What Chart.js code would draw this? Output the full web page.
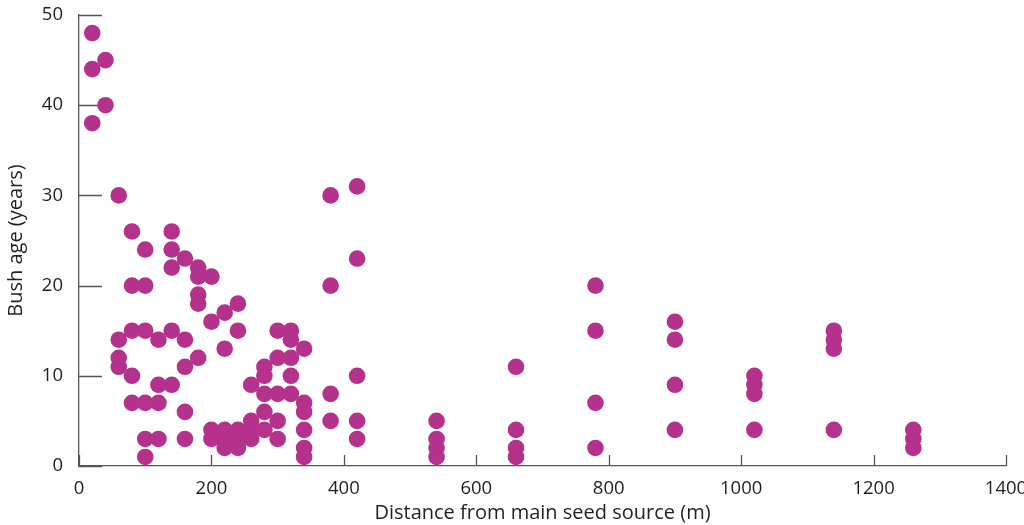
<!DOCTYPE html>
<html>
<head>
<meta charset="utf-8">
<script src="https://cdn.jsdelivr.net/npm/chart.js@4.4.0/dist/chart.umd.min.js"></script>
<style>
  html, body { margin: 0; padding: 0; background: #fff; }
  #wrap { width: 1024px; height: 525px; position: relative; }
</style>
</head>
<body>
<div id="wrap"><canvas id="myChart"></canvas></div>
<script>
"use strict";

/* Data: distance from seed source (m) and bush ages (years) found at each distance */
const distances = [20, 40, 60, 80, 100, 120, 140, 160, 180, 200, 220, 240, 260,
	280, 300, 320, 340, 380, 420, 540, 660, 780, 900, 1020, 1140, 1260];
const ages = [
	[48, 44, 38],
	[45, 40],
	[30, 14, 12, 11],
	[26, 20, 15, 10, 7],
	[24, 20, 15, 7, 3, 1],
	[14, 9, 7, 3],
	[26, 24, 22, 15, 9],
	[23, 14, 11, 6, 3],
	[22, 21, 19, 18, 12],
	[21, 16, 4, 3],
	[17, 13, 4, 3, 2],
	[18, 15, 4, 3, 2],
	[9, 5, 4, 3],
	[11, 10, 8, 6, 4],
	[15, 12, 8, 5, 3],
	[15, 14, 12, 10, 8],
	[13, 7, 6, 4, 2, 1],
	[30, 20, 8, 5],
	[31, 23, 10, 5, 3],
	[5, 3, 2, 1],
	[11, 4, 2, 1],
	[20, 15, 7, 2],
	[16, 14, 9, 4],
	[10, 9, 8, 4],
	[15, 14, 13, 4],
	[4, 3, 2]
];
const xTicks = [0, 200, 400, 600, 800, 1000, 1200, 1400];
const yTicks = [0, 10, 20, 30, 40, 50];

const dotColor = 'rgb(180, 50, 140)';
const axisColor = '#555555';
const textColor = '#231f20';
const fontFamily = '"Open Sans", "Noto Sans", sans-serif';

// build the point list
const points = [];
distances.forEach(function (d, i) {
	ages[i].forEach(function (a) {
		points.push({ x: d, y: a });
	});
});

// tick marks drawn inside the plot, like the original
const innerTicks = {
	id: 'innerTicks',
	beforeDatasetsDraw(chart) {
		const ctx = chart.ctx;
		const x = chart.scales.x;
		const y = chart.scales.y;
		ctx.save();
		ctx.strokeStyle = axisColor;
		ctx.lineWidth = 1.3;
		ctx.beginPath();
		yTicks.forEach(function (v) {
			const py = Math.round(y.getPixelForValue(v)) + 0.5;
			ctx.moveTo(x.left, py);
			ctx.lineTo(x.left + 23, py);
		});
		xTicks.forEach(function (v) {
			const px = Math.round(x.getPixelForValue(v)) + 0.5;
			ctx.moveTo(px, y.bottom);
			ctx.lineTo(px, y.bottom - 11);
		});
		ctx.stroke();
		ctx.restore();
	}
};

const config = {
	type: 'scatter',
	data: {
		datasets: [{
			label: 'Bush age',
			data: points,
			backgroundColor: dotColor,
			borderColor: dotColor,
			borderWidth: 0,
			pointRadius: 8.3,
			pointHoverRadius: 8.3
		}]
	},
	options: {
		responsive: true,
		maintainAspectRatio: false,
		animation: false,
		layout: { padding: { top: 15, right: 18, bottom: 0, left: 0 } },
		plugins: {
			legend: { display: false },
			tooltip: { enabled: false }
		},
		scales: {
			x: {
				type: 'linear',
				min: 0,
				max: 1400,
				afterBuildTicks: function (s) { s.ticks = xTicks.map(function (v) { return { value: v }; }); },
				afterFit: function (s) { s.height = 59; s.paddingLeft = 0; s.paddingRight = 0; },
				grid: { display: false, drawTicks: false },
				border: { display: true, color: axisColor, width: 1.3 },
				ticks: {
					color: textColor,
					font: { family: fontFamily, size: 18.5 },
					padding: 12,
					maxRotation: 0,
					callback: function (v) { return String(v); }
				},
				title: {
					display: true,
					text: 'Distance from main seed source (m)',
					color: textColor,
					font: { family: fontFamily, size: 20 },
					padding: { top: 0, bottom: 0 }
				}
			},
			y: {
				type: 'linear',
				min: 0,
				max: 50,
				afterBuildTicks: function (s) { s.ticks = yTicks.map(function (v) { return { value: v }; }); },
				afterFit: function (s) { s.width = 79; s.paddingTop = 0; s.paddingBottom = 0; },
				grid: { display: false, drawTicks: false },
				border: { display: true, color: axisColor, width: 1.3 },
				ticks: {
					color: textColor,
					font: { family: fontFamily, size: 18.5 },
					padding: 16,
					callback: function (v) { return String(v); }
				},
				title: {
					display: true,
					text: 'Bush age (years)',
					color: textColor,
					font: { family: fontFamily, size: 20 },
					padding: { top: 4, bottom: 10 }
				}
			}
		}
	},
	plugins: [innerTicks]
};

const myChart = new Chart(document.getElementById('myChart'), config);
</script>
</body>
</html>
